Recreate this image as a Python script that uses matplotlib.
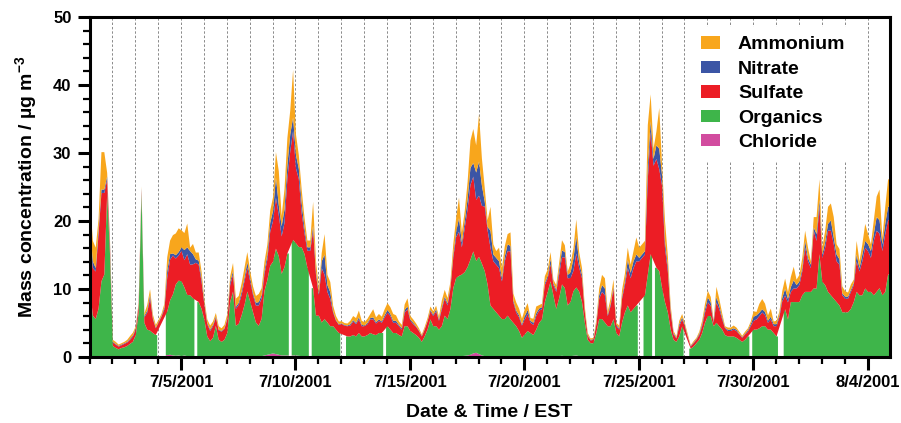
import numpy as np
import pandas as pd
import matplotlib
matplotlib.use("Agg")
import matplotlib.pyplot as plt
import matplotlib.dates as mdates
from matplotlib.ticker import MultipleLocator, FixedLocator, FuncFormatter
from matplotlib.patches import Patch

nan = np.nan

# 3-hourly aerosol mass concentrations (ug/m3), 7/1/2001 00:00 EST onward, one row per day
organics = [
    10, 6, 5.5, 7, 11, 12, 24, 15,            # 7/1
    1.6, 1.3, 1.1, 1.3, 1.4, 1.6, 1.9, 2.2,   # 7/2
    3.2, 6.5, 24, 5, 4, 3.8, 3.5, 3.2,        # 7/3
    nan, nan, nan, 6.4, 8, 9, 10.5, 11,       # 7/4
    11, 10, 9, 9, 8.5, nan, 8, 7,             # 7/5
    5.4, 3, 2.3, 2.8, 4.5, 2.5, 2.2, 2.5,     # 7/6
    3.5, 8, 9.5, 4.5, 4.8, 6, 7.5, 9.5,       # 7/7
    8, 6.5, 5, 4.5, 5.5, 9.5, 11, 13,         # 7/8
    13.5, 15.5, 14.5, 12, 13, 15, nan, 17,    # 7/9
    16.5, 16, 16, 15, 13, nan, 10, 6,         # 7/10
    6, 5, 5.5, 5, 4.5, 4.5, 4, 3.5,           # 7/11
    nan, nan, 3, 3, 3.2, 3, 3.5, 3,           # 7/12
    3, 3.2, 3.5, 3.3, 3.2, 3.5, 3.5, nan,     # 7/13
    4.5, 4, 3.5, 3.5, 3.2, 3, 4.5, 4.5,       # 7/14
    3.8, 3.5, 3.2, 2.8, 2.2, 3, 4, 5.5,       # 7/15
    4.5, 4.5, 4, 4.5, 6, 5.5, 7, 10,          # 7/16
    11.5, 11.8, 12, 12.3, 13, 14, 15, 13.5,   # 7/17
    14.3, 13.5, 12.5, 10.5, 7.5, 7, 6.5, 6,   # 7/18
    5.5, 5.5, 6, 5.5, 5, 4.5, 3.8, 2.8,       # 7/19
    3.3, 3.8, 3.5, 3.2, 4, 5, 5.5, 8,         # 7/20
    9.5, 11, 9, 7, 8.5, 10.5, 10, 7.5,        # 7/21
    8, 9.5, 10, 9.5, 8, 5, 2.5, 2,            # 7/22
    2, 3.5, 5.5, 5.5, 5, 4.5, 4.5, 5.5,       # 7/23
    3.5, 3, 5, 6.5, 7.5, 6.5, 7, 7.5,         # 7/24
    nan, nan, 9, 12, 15, nan, 13, 12.5,       # 7/25
    10, 8, 6.5, 4, 2.5, 2.2, 3, 4.5,          # 7/26
    nan, nan, 1.2, 1.5, 2, 2.5, 3.5, 5,       # 7/27
    6, 6, 4.5, 5, 4.5, 4, 3.2, 3,             # 7/28
    3, 3, 2.8, 2.5, 2.2, 2.5, 3, nan,         # 7/29
    4, 4, 4.2, 4.5, 4.5, 4, 4, 3.5,           # 7/30
    3, nan, nan, 7, 5.5, 8, 8, 8,             # 7/31
    8, 9, 9.5, 9.5, 9.5, 10, 10, 15,          # 8/1
    11, 10.5, 9.5, 9, 8.5, 8, 7.5, 6.5,       # 8/2
    6.5, 6.5, 7, 8, 9.5, 9, 9, 10,            # 8/3
    9.5, 9.5, 9, 9.5, 10, 9, 9.5, 12,         # 8/4
]

sulfate = [
    7, 7, 7, 11, 13, 12, 2, 1,
    0.5, 0.5, 0.4, 0.4, 0.5, 0.5, 0.6, 0.8,
    0.8, 1, 0.4, 0.8, 2.5, 4.8, 2, 1,
    1, 1, 1.2, 5, 6, 5.7, 3.8, 3.7,
    4.5, 4, 6, 4.5, 5, 5.5, 5.5, 4,
    2.2, 1.8, 1.5, 1.7, 1.2, 1.4, 1.5, 1.6,
    2, 2.5, 2.5, 2.5, 2.8, 3, 3.5, 3.5,
    3, 2.5, 2.5, 3, 3, 2.5, 3, 5,
    6, 7.5, 6, 5.5, 6.5, 11, 14, 16,
    11, 10, 5, 3, 2.5, 4, 8.5, 6,
    3, 8, 6.5, 4.5, 4, 2, 1.3, 1.2,
    1.5, 1.4, 1.5, 1.6, 2, 1.8, 2, 1.5,
    1.5, 1.6, 2, 2.2, 1.7, 1.8, 1.5, 1.8,
    2, 2, 1.5, 1.5, 1.3, 1, 2, 2.5,
    1.5, 1.3, 1.2, 1, 0.8, 1, 1.2, 1.2,
    1.5, 2.2, 1.3, 2.5, 2.5, 2, 3, 4.5,
    6, 6.5, 4, 6.5, 8.5, 11, 11, 9,
    9, 8.5, 9.5, 8, 8.5, 7, 7, 7,
    5.5, 8.5, 9.5, 10, 3, 2, 2, 1.8,
    2.2, 2.5, 1.5, 1.5, 2, 1.8, 1.5, 2.5,
    2, 2.5, 1.5, 2.5, 3.5, 4, 4.5, 4,
    3.5, 3, 5, 3.5, 3.5, 1.5, 0.6, 0.4,
    0.5, 1.2, 3, 4, 4, 1.5, 3, 4.5,
    1, 1, 3.5, 4, 5.5, 5, 6, 6.5,
    6, 6, 6, 14, 18, 14, 16, 15,
    15, 8, 6, 2.5, 0.8, 0.5, 1.5, 1,
    1, 0.6, 0.3, 0.5, 0.5, 0.7, 1, 1.5,
    2, 1.5, 0.5, 3, 2.5, 1.5, 1, 0.8,
    0.8, 1, 1, 0.8, 0.6, 0.8, 0.7, 1,
    1.3, 1.5, 1.8, 2, 1.6, 1, 1.5, 1,
    1.5, 1.5, 2.5, 2, 2.5, 1.5, 2, 2,
    2.5, 3.5, 6.5, 4.5, 3.5, 8.5, 7, 7,
    3.5, 5.5, 9, 9.5, 8, 6, 6, 2.5,
    2, 2, 2.5, 2.5, 4.5, 3.5, 5, 6,
    6, 5, 8, 9, 8, 6.5, 8.5, 8,
]

nitrate = [
    2, 1, 0.5, 0.7, 0.5, 0.5, 0.5, 0.5,
    0.1, 0.1, 0.1, 0.1, 0.1, 0.1, 0.15, 0.15,
    0.2, 0.2, 0.3, 0.2, 0.3, 0.5, 0.2, 0.1,
    0.1, 0.1, 0.3, 1, 0.8, 0.3, 0.5, 0.5,
    0.5, 1.5, 1, 2, 1.5, 0.5, 0.6, 0.5,
    0.3, 0.2, 0.2, 0.2, 0.2, 0.1, 0.1, 0.1,
    0.2, 0.5, 0.5, 0.3, 0.3, 0.5, 0.5, 0.8,
    0.5, 0.3, 0.4, 0.5, 0.5, 0.5, 0.7, 1.3,
    1.5, 3, 1.5, 1.5, 2, 2, 2.5, 2,
    2, 1.5, 1.5, 0.8, 0.5, 0.5, 0.7, 0.5,
    0.3, 1, 3, 1, 1, 0.2, 0.1, 0.1,
    0.1, 0.1, 0.1, 0.2, 0.2, 0.2, 0.3, 0.2,
    0.1, 0.2, 0.2, 0.3, 0.2, 0.2, 0.2, 0.3,
    0.4, 0.3, 0.3, 0.3, 0.2, 0.2, 0.4, 0.4,
    0.2, 0.2, 0.1, 0.1, 0.1, 0.1, 0.1, 0.2,
    0.2, 0.3, 0.2, 0.3, 0.3, 0.3, 0.3, 0.5,
    0.8, 2, 0.7, 1, 1.5, 2.5, 2, 4,
    5, 3, 0.7, 0.5, 2.5, 1, 1, 1,
    0.5, 0.7, 1, 0.8, 0.3, 0.3, 0.3, 0.2,
    0.5, 0.6, 0.3, 0.3, 0.4, 0.3, 0.3, 0.3,
    0.3, 0.8, 0.3, 0.3, 0.7, 1, 0.8, 0.5,
    0.8, 1.8, 2.5, 0.8, 0.5, 0.2, 0.1, 0.1,
    0.1, 0.2, 0.5, 1, 1, 0.2, 0.3, 0.3,
    0.2, 0.2, 0.3, 0.5, 1.2, 0.8, 1, 1,
    0.5, 0.5, 0.5, 2, 1.5, 1, 2, 3,
    1.5, 1, 0.8, 0.3, 0.2, 0.1, 0.3, 0.3,
    0.2, 0.1, 0.1, 0.1, 0.1, 0.2, 0.3, 0.5,
    0.7, 0.5, 0.2, 0.8, 0.5, 0.3, 0.1, 0.2,
    0.2, 0.2, 0.2, 0.1, 0.1, 0.1, 0.2, 0.3,
    0.6, 0.6, 0.5, 0.5, 0.5, 0.3, 0.4, 0.3,
    0.3, 0.3, 0.5, 1, 0.5, 0.7, 1.2, 0.5,
    0.5, 0.5, 1, 0.5, 0.5, 0.5, 1, 1,
    0.5, 0.8, 1, 1.5, 1, 1, 0.8, 0.3,
    0.3, 0.3, 0.3, 0.3, 1, 0.5, 1, 1,
    1, 1, 1, 2, 2, 1, 1.5, 2,
]

ammonium = [
    4, 3, 3, 1.5, 5.5, 5.5, 0.5, 0.5,
    0.3, 0.3, 0.2, 0.2, 0.2, 0.3, 0.4, 0.4,
    0.3, 0.3, 0.3, 0.4, 0.8, 0.8, 0.5, 0.4,
    0.3, 0.3, 0.5, 2, 2, 2.7, 3.2, 3.5,
    2.5, 2.5, 3.5, 0.5, 1.5, 1, 1.2, 1,
    0.5, 0.5, 0.6, 0.5, 0.5, 0.5, 0.4, 0.5,
    0.6, 0.8, 1.2, 1.2, 1, 1.2, 1.5, 1.5,
    1, 1, 1, 1.2, 1, 1.3, 1.5, 1.8,
    2, 3.7, 5, 1.5, 3, 4, 3.5, 7,
    3, 2, 2, 1.5, 1, 1, 3.5, 1.5,
    0.8, 1.2, 3, 1.5, 1.5, 0.8, 0.6, 0.4,
    0.3, 0.3, 0.3, 0.5, 0.6, 0.7, 1, 0.6,
    0.5, 0.6, 0.6, 1.2, 0.7, 0.8, 0.7, 0.9,
    1, 1, 1, 0.8, 0.5, 0.5, 0.8, 1.2,
    0.5, 0.5, 0.4, 0.3, 0.2, 0.3, 0.4, 0.5,
    0.5, 0.5, 0.4, 1, 1, 0.8, 0.7, 1.5,
    2, 3, 1.5, 1.5, 2.5, 4, 5, 4,
    7, 4, 2, 1, 3.5, 1.5, 1, 2,
    1.5, 1.5, 1.5, 2, 1, 1.2, 1, 0.8,
    1, 1, 0.4, 0.6, 1, 0.5, 0.5, 1,
    1, 1, 0.5, 0.7, 1, 1.5, 1, 0.5,
    1.3, 1.5, 2.5, 1.5, 1, 0.6, 0.3, 0.2,
    0.2, 0.5, 1, 1.5, 1.5, 0.5, 0.8, 1,
    0.3, 0.4, 1, 1.2, 1.8, 1.2, 1.5, 2.5,
    1.5, 1.5, 1.5, 6, 4, 1.5, 2, 6,
    1.5, 3, 1.5, 0.7, 0.3, 0.2, 0.5, 0.5,
    0.3, 0.3, 0.1, 0.2, 0.2, 0.3, 0.5, 0.8,
    1, 0.8, 0.2, 1.5, 1, 0.6, 0.2, 0.3,
    0.3, 0.4, 0.3, 0.3, 0.2, 0.3, 0.3, 0.4,
    0.8, 0.5, 1.3, 1.5, 1.2, 0.8, 1.2, 0.4,
    0.5, 0.5, 1, 1.5, 1, 1.5, 2, 0.8,
    1, 1.5, 1.5, 1.5, 0.5, 1.5, 2.5, 3,
    1, 1.7, 2.5, 2.5, 3, 1.5, 1.5, 1,
    0.8, 0.6, 0.8, 0.5, 2, 1, 1.5, 2.5,
    1.5, 1, 2, 3, 4.5, 1, 2.5, 4,
]

chloride = [
    0.15, 0.15, 0.15, 0.2, 0.2, 0.2, 0.15, 0.15,
    0.1, 0.1, 0.1, 0.1, 0.1, 0.1, 0.1, 0.1,
    0.1, 0.1, 0.15, 0.1, 0.1, 0.15, 0.1, 0.1,
    nan, nan, nan, 0.35, 0.4, 0.3, 0.25, 0.3,
    0.2, 0.3, 0.2, 0.15, 0.2, nan, 0.15, 0.15,
    0.1, 0.1, 0.1, 0.1, 0.15, 0.1, 0.1, 0.1,
    0.1, 0.15, 0.2, 0.15, 0.15, 0.2, 0.2, 0.2,
    0.2, 0.15, 0.15, 0.15, 0.2, 0.3, 0.4, 0.5,
    0.6, 0.5, 0.4, 0.3, 0.3, 0.3, nan, 0.3,
    0.3, 0.25, 0.2, 0.2, 0.2, nan, 0.2, 0.15,
    0.15, 0.15, 0.15, 0.15, 0.1, 0.1, 0.1, 0.1,
    nan, nan, 0.1, 0.1, 0.1, 0.1, 0.1, 0.1,
    0.1, 0.1, 0.1, 0.1, 0.1, 0.1, 0.1, nan,
    0.1, 0.1, 0.1, 0.1, 0.1, 0.1, 0.1, 0.1,
    0.1, 0.1, 0.1, 0.1, 0.1, 0.1, 0.1, 0.1,
    0.1, 0.1, 0.1, 0.1, 0.15, 0.15, 0.15, 0.2,
    0.2, 0.2, 0.2, 0.25, 0.3, 0.4, 0.6, 0.7,
    0.5, 0.3, 0.2, 0.2, 0.15, 0.15, 0.15, 0.15,
    0.15, 0.15, 0.15, 0.1, 0.1, 0.1, 0.1, 0.1,
    0.1, 0.1, 0.1, 0.1, 0.1, 0.1, 0.1, 0.15,
    0.15, 0.2, 0.15, 0.15, 0.2, 0.25, 0.2, 0.15,
    0.2, 0.25, 0.3, 0.2, 0.15, 0.1, 0.1, 0.1,
    0.1, 0.1, 0.15, 0.15, 0.15, 0.1, 0.1, 0.15,
    0.1, 0.1, 0.15, 0.15, 0.15, 0.15, 0.15, 0.15,
    nan, nan, 0.15, 0.2, 0.2, nan, 0.2, 0.2,
    0.2, 0.15, 0.15, 0.1, 0.1, 0.1, 0.1, 0.1,
    nan, nan, 0.1, 0.1, 0.1, 0.1, 0.1, 0.1,
    0.1, 0.1, 0.1, 0.1, 0.1, 0.1, 0.1, 0.1,
    0.1, 0.1, 0.1, 0.1, 0.1, 0.1, 0.1, nan,
    0.1, 0.1, 0.1, 0.1, 0.1, 0.1, 0.1, 0.1,
    0.1, nan, nan, 0.1, 0.1, 0.15, 0.15, 0.15,
    0.15, 0.15, 0.15, 0.15, 0.15, 0.15, 0.15, 0.2,
    0.15, 0.15, 0.15, 0.15, 0.15, 0.15, 0.15, 0.15,
    0.15, 0.15, 0.15, 0.15, 0.15, 0.15, 0.15, 0.15,
    0.15, 0.15, 0.15, 0.15, 0.2, 0.15, 0.15, 0.2,
]

species = ["Ammonium", "Nitrate", "Sulfate", "Organics", "Chloride"]
colors = {"Ammonium": "#F8A61C", "Nitrate": "#3B55A5", "Sulfate": "#EC1D25",
          "Organics": "#3EB54A", "Chloride": "#D24C9F"}
tick_dates = ["2001-07-05", "2001-07-10", "2001-07-15", "2001-07-20",
              "2001-07-25", "2001-07-30", "2001-08-04"]

times = pd.date_range("2001-07-01 00:00", periods=len(organics), freq="3h")
t = mdates.date2num(times)
half = 1.5 / 24


def bridged(a):
    # carry the stack across missing samples so upper layers stay continuous
    idx = np.arange(len(a))
    ok = ~np.isnan(a)
    return np.interp(idx, idx[ok], a[ok])


def fill_runs(ax, lower, upper, color):
    # each unbroken run of samples covers half a sampling interval past its ends
    ok = ~np.isnan(upper)
    edges = np.flatnonzero(np.diff(np.r_[0, ok.astype(int), 0]))
    for s, e in zip(edges[::2], edges[1::2]):
        x = np.r_[t[s] - half, t[s:e], t[e - 1] + half]
        lo = np.r_[lower[s], lower[s:e], lower[e - 1]]
        hi = np.r_[upper[s], upper[s:e], upper[e - 1]]
        ax.fill_between(x, lo, hi, color=color, linewidth=0, zorder=3)


plt.rcParams["font.family"] = "Liberation Sans"
plt.rcParams["font.weight"] = "bold"
plt.rcParams["mathtext.fontset"] = "custom"
plt.rcParams["mathtext.rm"] = "Liberation Sans:bold"
plt.rcParams["mathtext.it"] = "Liberation Sans:bold"

fig = plt.figure(figsize=(9.01, 4.23), dpi=100)
ax = fig.add_axes([89.5 / 901, 66 / 423, 800 / 901, 340 / 423])

cl = np.array(chloride, dtype=float)
org = np.array(organics, dtype=float)
so4 = np.array(sulfate, dtype=float)
no3 = np.array(nitrate, dtype=float)
nh4 = np.array(ammonium, dtype=float)

base_cl = bridged(cl)
base_org = base_cl + bridged(org)
top_so4 = base_org + so4
top_no3 = top_so4 + no3
top_nh4 = top_no3 + nh4

fill_runs(ax, np.zeros_like(cl), cl, colors["Chloride"])
fill_runs(ax, base_cl, base_cl + org, colors["Organics"])
fill_runs(ax, base_org, top_so4, colors["Sulfate"])
fill_runs(ax, top_so4, top_no3, colors["Nitrate"])
fill_runs(ax, top_no3, top_nh4, colors["Ammonium"])

ax.set_xlim(mdates.date2num(pd.Timestamp("2001-07-01 00:00")),
            mdates.date2num(pd.Timestamp("2001-08-04 23:00")))
ax.set_ylim(0, 50)

major = [mdates.date2num(pd.Timestamp(d)) for d in tick_dates]
ax.xaxis.set_major_locator(FixedLocator(major))
ax.xaxis.set_minor_locator(FixedLocator(np.arange(np.floor(t[0]), t[-1] + 1, 1.0)))
ax.xaxis.set_major_formatter(FuncFormatter(
    lambda v, p: "{0.month}/{0.day}/{0.year}".format(mdates.num2date(v))))
ax.yaxis.set_major_locator(MultipleLocator(10))
ax.yaxis.set_minor_locator(MultipleLocator(2))

ax.grid(True, which="both", axis="x", color="#8a8a8a", linestyle=(0, (2.5, 2)), linewidth=0.7)
ax.set_axisbelow(True)

for s in ax.spines.values():
    s.set_linewidth(2.2)
    s.set_zorder(5)
ax.tick_params(which="major", direction="out", length=9, width=2.2, labelsize=12, pad=4)
ax.tick_params(which="minor", direction="out", length=5, width=1.6)

ax.set_xlabel("Date & Time / EST", fontsize=14, fontweight="bold", labelpad=10)
ax.set_ylabel("Mass concentration / µg m$^{-3}$", fontsize=14, fontweight="bold", labelpad=10)

handles = [Patch(facecolor=colors[s], edgecolor="none") for s in species]
leg = ax.legend(handles, species, loc="upper left", bbox_to_anchor=(0.74, 1.0),
                fontsize=14, frameon=True, framealpha=1, facecolor="white",
                edgecolor="none", handlelength=1.0, handleheight=0.6,
                handletextpad=0.9, labelspacing=0.38, borderpad=0.5, fancybox=False)
leg.set_zorder(4)
for txt in leg.get_texts():
    txt.set_fontweight("bold")

fig.savefig("out.png", dpi=100)
